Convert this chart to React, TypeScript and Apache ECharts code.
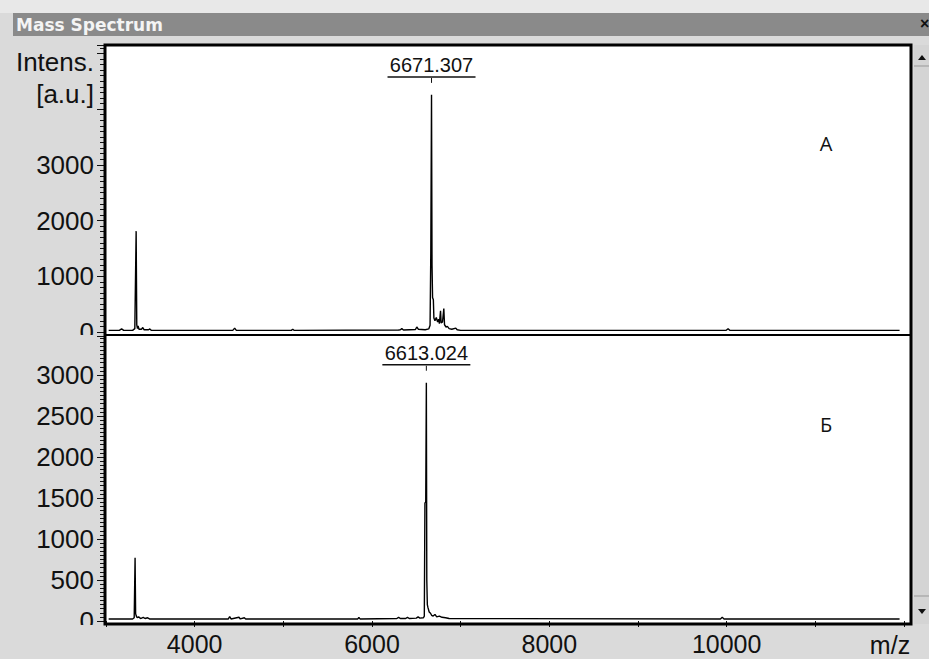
import React, { useEffect, useRef } from "react";
import * as echarts from "echarts";

// ---- data ----
const topMz = [3030, 3150, 3176, 3200, 3300, 3325, 3340, 3347, 3355, 3362, 3372, 3400, 3415, 3430, 3480, 3494, 3510, 4430, 4451, 4470, 5090, 5106, 5120, 6300, 6320, 6336, 6355, 6490, 6505, 6522, 6600, 6640, 6655, 6663, 6671.307, 6677, 6683, 6692, 6698, 6710, 6725, 6740, 6752, 6760, 6773, 6780, 6795, 6810, 6818, 6835, 6850, 6870, 6900, 6945, 6960, 7000, 9995, 10016, 10035, 11950];
const topIntensity = [30, 30, 55, 30, 30, 60, 1810, 130, 60, 110, 50, 50, 80, 40, 40, 55, 30, 30, 70, 30, 30, 50, 30, 35, 40, 60, 35, 45, 90, 50, 40, 55, 120, 1400, 4255, 1200, 620, 580, 250, 200, 260, 180, 230, 150, 380, 160, 180, 420, 130, 90, 100, 60, 50, 70, 40, 30, 30, 60, 30, 30];

const bottomMz = [3030, 3300, 3318, 3328, 3334, 3342, 3352, 3368, 3390, 3420, 3440, 3470, 3490, 4380, 4395, 4410, 4500, 4515, 4560, 4575, 5840, 5852, 5865, 6280, 6300, 6320, 6380, 6400, 6420, 6500, 6520, 6540, 6580, 6590, 6597, 6606, 6613.024, 6618, 6624, 6632, 6645, 6660, 6672, 6690, 6710, 6730, 6760, 6790, 6830, 6870, 9930, 9950, 9970, 11950];
const bottomIntensity = [25, 25, 40, 770, 90, 60, 40, 50, 30, 45, 30, 40, 25, 25, 55, 25, 45, 25, 40, 25, 25, 45, 25, 30, 45, 30, 30, 45, 30, 35, 50, 35, 40, 60, 1440, 1450, 2905, 500, 200, 160, 110, 95, 70, 60, 80, 50, 60, 45, 40, 30, 25, 45, 25, 25];

const peakLabels = ["6671.307", "6613.024"];
const peakMz = [6671.307, 6613.024];
const peakIntensity = [4255, 2905];

const panelLetters = ["А", "Б"];
const xTickLabels = [4000, 6000, 8000, 10000];
const topYLabels = [0, 1000, 2000, 3000];

const FONT = "'Liberation Sans', Arial, sans-serif";
const BG = "#dadada";

export default function App() {
  const ref = useRef<HTMLDivElement>(null);

  useEffect(() => {
    if (!ref.current) return;
    const chart = echarts.init(ref.current, null, { renderer: "svg" });

    const topData = topMz.map((m, i) => [m, topIntensity[i]]);
    const bottomData = bottomMz.map((m, i) => [m, bottomIntensity[i]]);

    const yAxisCommon = (gridIndex: number, max: number, interval: number, fmt: (v: number) => string) => ({
      gridIndex,
      type: "value",
      min: 0,
      max,
      interval,
      offset: 2,
      axisLine: { show: false },
      axisTick: { show: true, length: 7, lineStyle: { color: "#111", width: 1 } },
      minorTick: { show: true, splitNumber: 10, length: 4, lineStyle: { color: "#111", width: 1 } },
      splitLine: { show: false },
      minorSplitLine: { show: false },
      axisLabel: { formatter: fmt, fontSize: 26, fontFamily: FONT, color: "#111", margin: 10 },
    });

    chart.setOption({
      animation: false,
      backgroundColor: BG,
      grid: [
        { left: 106, width: 798, top: 45, height: 287 },
        { left: 106, width: 798, top: 336, height: 285 },
      ],
      xAxis: [
        { gridIndex: 0, type: "value", min: 3000, max: 12000, interval: 1000, show: false },
        {
          gridIndex: 1,
          type: "value",
          min: 3000,
          max: 12000,
          interval: 1000,
          offset: 3,
          axisLine: { show: false },
          axisTick: { show: true, length: 6, lineStyle: { color: "#111", width: 1 } },
          splitLine: { show: false },
          axisLabel: {
            formatter: (v: number) => (xTickLabels.includes(v) ? String(v) : ""),
            fontSize: 25,
            fontFamily: FONT,
            color: "#111",
            margin: 7,
          },
        },
      ],
      yAxis: [
        yAxisCommon(0, 5150, 1000, (v: number) => (topYLabels.includes(v) ? String(v) : "")),
        yAxisCommon(1, 3475, 500, (v: number) => (v % 500 === 0 && v <= 3000 ? String(v) : "")),
      ],
      series: [
        {
          type: "line",
          xAxisIndex: 0,
          yAxisIndex: 0,
          data: topData,
          showSymbol: false,
          symbol: "none",
          lineStyle: { color: "#000", width: 1.4 },
          z: 5,
        },
        {
          type: "line",
          xAxisIndex: 1,
          yAxisIndex: 1,
          data: bottomData,
          showSymbol: false,
          symbol: "none",
          lineStyle: { color: "#000", width: 1.4 },
          z: 5,
        },
      ],
    });

    const p1 = chart.convertToPixel({ xAxisIndex: 0, yAxisIndex: 0 }, [peakMz[0], peakIntensity[0]]) as number[];
    const p2 = chart.convertToPixel({ xAxisIndex: 1, yAxisIndex: 1 }, [peakMz[1], peakIntensity[1]]) as number[];

    const annot = (p: number[], label: string) => [
      {
        type: "text",
        z: 60,
        x: p[0],
        y: p[1] - 30,
        style: { text: label, fontSize: 20, fontFamily: FONT, fill: "#111", align: "center", verticalAlign: "middle", textAlign: "center", textVerticalAlign: "middle" },
      },
      { type: "line", z: 60, shape: { x1: p[0] - 44, y1: p[1] - 18, x2: p[0] + 44, y2: p[1] - 18 }, style: { stroke: "#111", lineWidth: 1.5 } },
      { type: "line", z: 60, shape: { x1: p[0], y1: p[1] - 17, x2: p[0], y2: p[1] - 12 }, style: { stroke: "#111", lineWidth: 1 } },
    ];

    const txt = (x: number, y: number, text: string, size: number, align: string, extra: any = {}) => ({
      type: "text",
      z: 60,
      x,
      y,
      style: { text, fontSize: size, fontFamily: FONT, fill: "#111", align, verticalAlign: "middle", textAlign: align, textVerticalAlign: "middle", ...extra },
    });

    chart.setOption({
      graphic: {
        elements: [
          // top light strip
          { type: "rect", z: -20, shape: { x: 0, y: 0, width: 929, height: 13 }, style: { fill: "#e8e8e8" } },
          // title bar
          { type: "rect", z: -20, shape: { x: 13, y: 13, width: 916, height: 23 }, style: { fill: "#8a8a8a" } },
          txt(16, 25, "Mass Spectrum", 17, "left", { fill: "#f4f4f4", fontWeight: "bold", fontFamily: "'DejaVu Sans', Verdana, sans-serif" }),
          txt(920, 23, "×", 16, "left", { fontWeight: "bold" }),
          // plot background
          { type: "rect", z: -20, shape: { x: 105, y: 45, width: 806, height: 579 }, style: { fill: "#ffffff" } },
          // frame
          { type: "rect", z: 100, shape: { x: 105, y: 45, width: 806, height: 579 }, style: { fill: "none", stroke: "#000", lineWidth: 3 } },
          { type: "line", z: 100, shape: { x1: 105, y1: 335, x2: 911, y2: 335 }, style: { stroke: "#000", lineWidth: 2 } },
          // scrollbar
          { type: "rect", z: -10, shape: { x: 914, y: 45, width: 15, height: 579 }, style: { fill: "#d4d4d4" } },
          { type: "line", z: 10, shape: { x1: 914, y1: 66, x2: 929, y2: 66 }, style: { stroke: "#999", lineWidth: 1 } },
          { type: "line", z: 10, shape: { x1: 914, y1: 596, x2: 929, y2: 596 }, style: { stroke: "#999", lineWidth: 1 } },
          { type: "polygon", z: 10, shape: { points: [[918, 60], [926, 60], [922, 55]] }, style: { fill: "#111" } },
          { type: "polygon", z: 10, shape: { points: [[918, 609], [926, 609], [922, 614]] }, style: { fill: "#111" } },
          // clip the zero labels at the panel edges
          { type: "rect", z: 50, shape: { x: 60, y: 335, width: 37, height: 8 }, style: { fill: BG } },
          { type: "rect", z: 50, shape: { x: 60, y: 625, width: 37, height: 12 }, style: { fill: BG } },
          // axis titles
          txt(94, 62, "Intens.", 26, "right"),
          txt(94, 94, "[a.u.]", 26, "right"),
          txt(890, 645, "m/z", 25, "center"),
          // panel letters
          txt(826, 143, panelLetters[0], 20, "center", { fontFamily: "'Open Sans', 'DejaVu Sans', sans-serif" }),
          txt(826, 424, panelLetters[1], 20, "center", { fontFamily: "'Open Sans', 'DejaVu Sans', sans-serif" }),
          ...annot(p1, peakLabels[0]),
          ...annot(p2, peakLabels[1]),
        ],
      },
    });

    return () => chart.dispose();
  }, []);

  return (
    <div
      ref={ref}
      style={{ position: "fixed", left: 0, top: 0, width: 929, height: 659, background: BG }}
    />
  );
}
